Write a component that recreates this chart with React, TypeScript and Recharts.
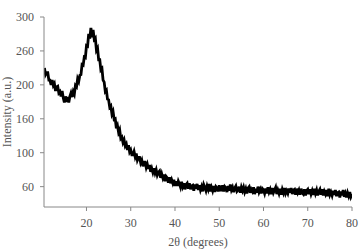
import { LineChart, Line, XAxis, YAxis } from 'recharts';

// 2θ angles (degrees), one row per 5°
const angles = [
  10.5, 10.75, 11, 11.25, 11.5, 11.75, 12, 12.25, 12.5, 12.75, 13, 13.25, 13.5, 13.75, 14, 14.25, 14.5, 14.75, 15, 15.25,
  15.5, 15.75, 16, 16.25, 16.5, 16.75, 17, 17.25, 17.5, 17.75, 18, 18.25, 18.5, 18.75, 19, 19.25, 19.5, 19.75, 20, 20.25,
  20.5, 20.75, 21, 21.25, 21.5, 21.75, 22, 22.25, 22.5, 22.75, 23, 23.25, 23.5, 23.75, 24, 24.25, 24.5, 24.75, 25, 25.25,
  25.5, 25.75, 26, 26.25, 26.5, 26.75, 27, 27.25, 27.5, 27.75, 28, 28.25, 28.5, 28.75, 29, 29.25, 29.5, 29.75, 30, 30.25,
  30.5, 30.75, 31, 31.25, 31.5, 31.75, 32, 32.25, 32.5, 32.75, 33, 33.25, 33.5, 33.75, 34, 34.25, 34.5, 34.75, 35, 35.25,
  35.5, 35.75, 36, 36.25, 36.5, 36.75, 37, 37.25, 37.5, 37.75, 38, 38.25, 38.5, 38.75, 39, 39.25, 39.5, 39.75, 40, 40.25,
  40.5, 40.75, 41, 41.25, 41.5, 41.75, 42, 42.25, 42.5, 42.75, 43, 43.25, 43.5, 43.75, 44, 44.25, 44.5, 44.75, 45, 45.25,
  45.5, 45.75, 46, 46.25, 46.5, 46.75, 47, 47.25, 47.5, 47.75, 48, 48.25, 48.5, 48.75, 49, 49.25, 49.5, 49.75, 50, 50.25,
  50.5, 50.75, 51, 51.25, 51.5, 51.75, 52, 52.25, 52.5, 52.75, 53, 53.25, 53.5, 53.75, 54, 54.25, 54.5, 54.75, 55, 55.25,
  55.5, 55.75, 56, 56.25, 56.5, 56.75, 57, 57.25, 57.5, 57.75, 58, 58.25, 58.5, 58.75, 59, 59.25, 59.5, 59.75, 60, 60.25,
  60.5, 60.75, 61, 61.25, 61.5, 61.75, 62, 62.25, 62.5, 62.75, 63, 63.25, 63.5, 63.75, 64, 64.25, 64.5, 64.75, 65, 65.25,
  65.5, 65.75, 66, 66.25, 66.5, 66.75, 67, 67.25, 67.5, 67.75, 68, 68.25, 68.5, 68.75, 69, 69.25, 69.5, 69.75, 70, 70.25,
  70.5, 70.75, 71, 71.25, 71.5, 71.75, 72, 72.25, 72.5, 72.75, 73, 73.25, 73.5, 73.75, 74, 74.25, 74.5, 74.75, 75, 75.25,
  75.5, 75.75, 76, 76.25, 76.5, 76.75, 77, 77.25, 77.5, 77.75, 78, 78.25, 78.5, 78.75, 79, 79.25, 79.5, 79.75, 80,
];

// intensity, in the plot's axis units (tick positions 50..300)
const intensity = [
  225, 215, 218, 218, 207, 207, 200, 207, 199, 202, 191, 197, 198, 188, 190, 183, 191, 181, 174, 183,
  175, 182, 174, 183, 188, 182, 190, 186, 199, 197, 209, 205, 214, 215, 230, 229, 241, 240, 258, 257,
  275, 268, 284, 270, 281, 267, 269, 251, 254, 237, 237, 222, 224, 207, 204, 190, 192, 179, 178, 167,
  169, 157, 161, 149, 150, 136, 140, 130, 134, 121, 123, 115, 119, 110, 113, 104, 111, 101, 104, 97,
  97, 102, 94, 99, 89, 93, 93, 85, 89, 80, 86, 86, 78, 83, 76, 82, 72, 77, 71, 77,
  70, 75, 67, 71, 73, 63, 69, 63, 68, 58, 65, 63, 56, 64, 55, 60, 55, 60, 51, 58,
  51, 58, 54, 49, 57, 50, 55, 46, 53, 55, 47, 55, 46, 51, 52, 44, 53, 47, 54, 45,
  52, 45, 50, 43, 53, 49, 44, 51, 46, 54, 43, 49, 44, 51, 42, 50, 48, 43, 52, 45,
  45, 52, 43, 50, 48, 42, 51, 44, 53, 45, 49, 42, 48, 51, 43, 45, 50, 41, 49, 44,
  49, 42, 47, 40, 48, 50, 41, 46, 43, 49, 39, 47, 41, 50, 42, 46, 40, 47, 45, 40,
  47, 40, 49, 42, 46, 39, 48, 41, 45, 49, 39, 45, 40, 47, 38, 46, 41, 48, 40, 44,
  40, 47, 41, 48, 39, 45, 46, 38, 47, 41, 45, 38, 47, 41, 39, 46, 37, 44, 46, 39,
  46, 39, 44, 38, 47, 40, 45, 37, 43, 46, 38, 46, 37, 43, 39, 45, 36, 47, 38, 42,
  37, 44, 38, 45, 36, 41, 42, 34, 43, 37, 45, 35, 40, 34, 41, 36, 42, 35, 39,
];

const xTicks = [20, 30, 40, 50, 60, 70, 80];
const yTicks = [50, 100, 150, 200, 250, 300];
const yTickLabels = ['60', '100', '160', '200', '260', '300'];

const data = angles.map((a, i) => ({ angle: a, value: intensity[i] }));

const font = 'Liberation Serif';
const tickStyle = { fill: '#555', fontSize: 12, fontFamily: font };
const labelStyle = { fill: '#555', fontSize: 12, fontFamily: font, textAnchor: 'middle' as const };

export default function App() {
  return (
    <div style={{ position: 'absolute', left: 0, top: 0, width: 364, height: 249, background: '#fff' }}>
      <LineChart width={364} height={249} data={data} margin={{ top: 17, right: 12, bottom: 0, left: 0 }}>
        <XAxis
          dataKey="angle"
          type="number"
          domain={[10.4, 80]}
          ticks={xTicks}
          allowDataOverflow
          height={42}
          tick={tickStyle}
          tickSize={4}
          tickMargin={7}
          stroke="#888"
          label={{ value: '2θ (degrees)', position: 'insideBottom', offset: 3, style: labelStyle }}
        />
        <YAxis
          type="number"
          domain={[20, 300]}
          ticks={yTicks}
          allowDataOverflow
          width={44}
          tick={tickStyle}
          tickSize={4}
          tickMargin={6}
          tickFormatter={(v: number) => yTickLabels[yTicks.indexOf(v)] ?? ''}
          stroke="#888"
          label={{ value: 'Intensity (a.u.)', angle: -90, position: 'insideLeft', offset: 7, style: labelStyle }}
        />
        <Line
          type="linear"
          dataKey="value"
          stroke="#000"
          strokeWidth={2.8}
          dot={false}
          isAnimationActive={false}
        />
      </LineChart>
    </div>
  );
}
